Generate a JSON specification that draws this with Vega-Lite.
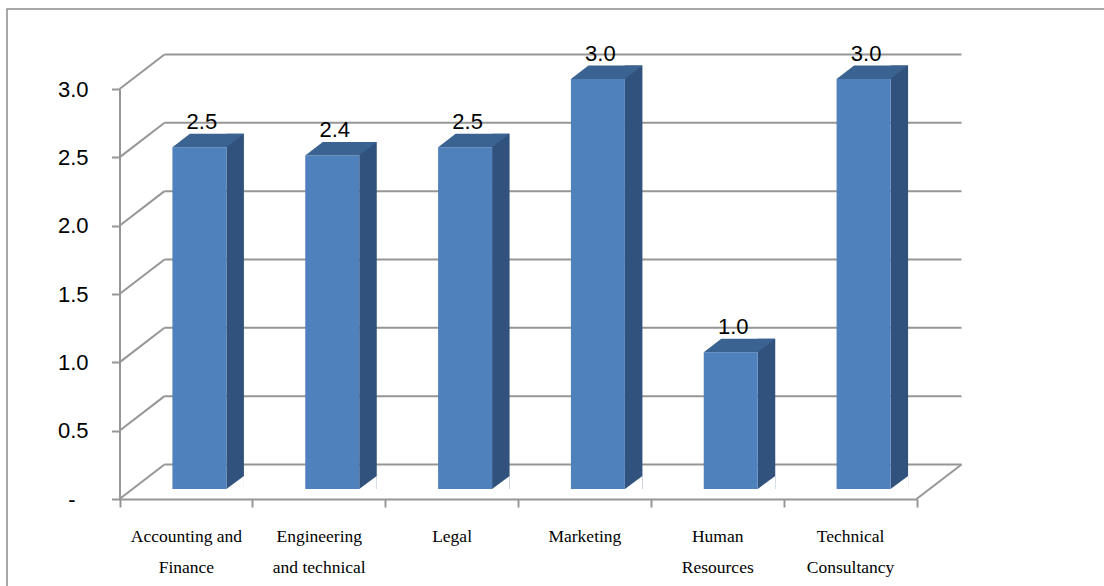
{
  "$schema": "https://vega.github.io/schema/vega-lite/v6.json",
  "autosize": "none",
  "padding": {"left": 7, "top": 9, "right": 0, "bottom": 0},
  "width": 1100,
  "height": 590,
  "background": "white",
  "config": {"view": {"stroke": "#8c8c8c", "strokeWidth": 1.5}},
  "datasets": {
    "bars": [
      {"category": "Accounting and Finance", "value": 2.5},
      {"category": "Engineering and technical", "value": 2.44},
      {"category": "Legal", "value": 2.5},
      {"category": "Marketing", "value": 3.0},
      {"category": "Human Resources", "value": 1.0},
      {"category": "Technical Consultancy", "value": 3.0}
    ],
    "ticks": [
      {"level": 0}, {"level": 0.5}, {"level": 1}, {"level": 1.5},
      {"level": 2}, {"level": 2.5}, {"level": 3}
    ]
  },
  "layer": [
    {
      "data": {"name": "ticks"},
      "mark": {"type": "rule", "color": "#969696", "strokeWidth": 2, "xOffset": 45, "x2Offset": 45, "yOffset": -34.5},
      "encoding": {
        "x": {
          "datum": "Accounting and Finance", "bandPosition": 0, "type": "nominal", "title": null,
          "scale": {
            "type": "band",
            "domain": ["Accounting and Finance", "Engineering and technical", "Legal", "Marketing", "Human Resources", "Technical Consultancy"],
            "range": [112.5, 909.5],
            "paddingInner": 0,
            "paddingOuter": 0
          }
        },
        "x2": {"datum": "Technical Consultancy", "bandPosition": 1},
        "y": {
          "field": "level", "type": "quantitative", "title": null,
          "scale": {"domain": [0, 3], "range": [490, 80], "nice": false, "zero": false}
        }
      }
    },
    {
      "data": {"name": "ticks"},
      "mark": {"type": "point", "shape": "M -1 0.767 L 1 -0.767", "size": 2025, "filled": false, "stroke": "#969696", "strokeWidth": 2, "opacity": 1, "xOffset": 22.5, "yOffset": -17.25},
      "encoding": {
        "x": {"datum": "Accounting and Finance", "bandPosition": 0, "type": "nominal", "title": null},
        "y": {"field": "level", "type": "quantitative", "title": null}
      }
    },
    {
      "data": {"values": [{"level": 0}]},
      "mark": {"type": "point", "shape": "M -1 0.767 L 1 -0.767", "size": 2025, "filled": false, "stroke": "#969696", "strokeWidth": 2, "opacity": 1, "xOffset": 22.5, "yOffset": -17.25},
      "encoding": {
        "x": {"datum": "Technical Consultancy", "bandPosition": 1, "type": "nominal", "title": null},
        "y": {"field": "level", "type": "quantitative", "title": null}
      }
    },
    {
      "data": {"name": "bars"},
      "mark": {"type": "bar", "width": 17.5, "xOffset": 49.25, "yOffset": -23.5, "y2Offset": -10, "color": "#31527c"},
      "encoding": {
        "x": {"field": "category", "type": "nominal", "title": null},
        "y": {"field": "value", "type": "quantitative", "title": null},
        "y2": {"datum": 0}
      }
    },
    {
      "data": {"name": "bars"},
      "mark": {"type": "point", "shape": "M -1 0.743 L 1 0.743 L 1 -0.743 Z", "size": 306.25, "filled": true, "fill": "white", "strokeWidth": 0, "opacity": 1, "xOffset": 49.25, "yOffset": -16.5},
      "encoding": {
        "x": {"field": "category", "type": "nominal", "title": null},
        "y": {"datum": 0, "type": "quantitative"}
      }
    },
    {
      "data": {"name": "bars"},
      "mark": {"type": "bar", "width": 54, "xOffset": 13.5, "yOffset": -10, "y2Offset": -10, "color": "#4f81bd"},
      "encoding": {
        "x": {
          "field": "category", "type": "nominal", "title": null,
          "axis": {
            "orient": "bottom", "offset": -100, "tickBand": "extent",
            "domainColor": "#969696", "domainWidth": 2, "tickColor": "#969696", "tickWidth": 2, "tickSize": 8,
            "labelFont": "Liberation Serif", "labelFontSize": 17.5, "labelColor": "black",
            "labelPadding": 20, "labelLineHeight": 31, "labelAngle": 0, "labelBaseline": "top", "labelAlign": "center",
            "labelOverlap": false, "grid": false, "title": null,
            "labelExpr": "datum.value == 'Accounting and Finance' ? ['Accounting and', 'Finance'] : datum.value == 'Engineering and technical' ? ['Engineering', 'and technical'] : datum.value == 'Human Resources' ? ['Human', 'Resources'] : datum.value == 'Technical Consultancy' ? ['Technical', 'Consultancy'] : datum.value"
          }
        },
        "y": {
          "field": "value", "type": "quantitative", "title": null,
          "axis": {
            "orient": "left", "offset": -112.5, "values": [0, 0.5, 1, 1.5, 2, 2.5, 3],
            "domainColor": "#969696", "domainWidth": 2, "tickColor": "#969696", "tickWidth": 2, "tickSize": 8,
            "labelFont": "Liberation Sans", "labelFontSize": 22, "labelColor": "black",
            "labelPadding": {"condition": {"test": "datum.value == 0", "value": 36.5}, "value": 23.5},
            "grid": false, "title": null,
            "labelExpr": "datum.value == 0 ? '-' : format(datum.value, '.1f')"
          }
        },
        "y2": {"datum": 0}
      }
    },
    {
      "data": {"name": "bars"},
      "mark": {"type": "point", "shape": "M -1 0.189 L 0.51 0.189 L 1 -0.189 L -0.51 -0.189 Z", "size": 5112.25, "filled": true, "fill": "#3a6392", "strokeWidth": 0, "opacity": 1, "xOffset": 22.25, "yOffset": -16.75},
      "encoding": {
        "x": {"field": "category", "type": "nominal", "title": null},
        "y": {"field": "value", "type": "quantitative", "title": null}
      }
    },
    {
      "data": {"name": "bars"},
      "mark": {"type": "text", "font": "Liberation Sans", "fontSize": 22, "color": "black", "baseline": "alphabetic", "align": "center", "xOffset": 16, "yOffset": -28.3},
      "encoding": {
        "x": {"field": "category", "type": "nominal", "title": null},
        "y": {"field": "value", "type": "quantitative", "title": null},
        "text": {"field": "value", "type": "quantitative", "format": ".1f"}
      }
    }
  ]
}
